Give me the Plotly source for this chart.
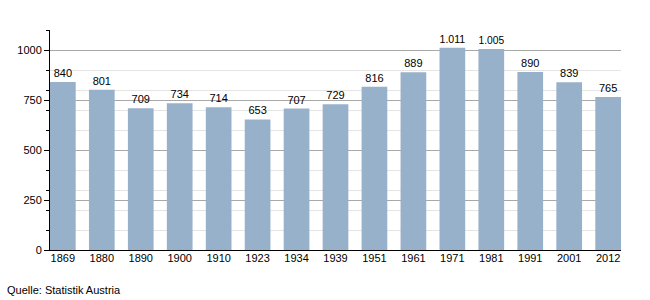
import plotly.graph_objects as go

years = ["1869", "1880", "1890", "1900", "1910", "1923", "1934", "1939",
         "1951", "1961", "1971", "1981", "1991", "2001", "2012"]
values = [840, 801, 709, 734, 714, 653, 707, 729, 816, 889, 1011, 1005, 890, 839, 765]
labels = [f"{v:,}".replace(",", ".") for v in values]
y_ticks = [0, 250, 500, 750, 1000]

fig = go.Figure()
fig.add_trace(go.Bar(
    x=years, y=values, text=labels, textposition="outside",
    textfont=dict(size=11, color="#000000"),
    marker=dict(color="#98b1cb", line=dict(width=0)),
    cliponaxis=False,
))
fig.update_layout(
    width=650, height=300,
    margin=dict(l=50, r=29, t=30, b=50),
    paper_bgcolor="white", plot_bgcolor="white",
    font=dict(family="Liberation Sans, Arial, sans-serif", size=11, color="#000000"),
    bargap=0.34,
    showlegend=False,
    xaxis=dict(
        type="category", range=[-0.33, 14.33],
        showline=True, linecolor="#000000", linewidth=1,
        ticks="", showgrid=False, tickfont=dict(size=11),
        ticklabelstandoff=-2,
    ),
    yaxis=dict(
        range=[0, 1100], tickvals=y_ticks, ticktext=[str(v) for v in y_ticks],
        showline=True, linecolor="#000000", linewidth=1,
        ticks="outside", ticklen=5, tickcolor="#000000",
        showgrid=True, gridcolor="#a8a8a8", gridwidth=1,
        zeroline=False,
        minor=dict(dtick=100, tick0=0, showgrid=True, gridcolor="#e4e4e4",
                   ticks="outside", ticklen=3, tickcolor="#000000"),
        tickfont=dict(size=11),
    ),
    annotations=[dict(
        text="Quelle: Statistik Austria", xref="paper", yref="paper",
        x=0, y=0, xshift=-45, yshift=-32, xanchor="left", yanchor="top",
        showarrow=False, font=dict(size=11, color="#000000"),
    )],
)
fig.write_html("out.html")
